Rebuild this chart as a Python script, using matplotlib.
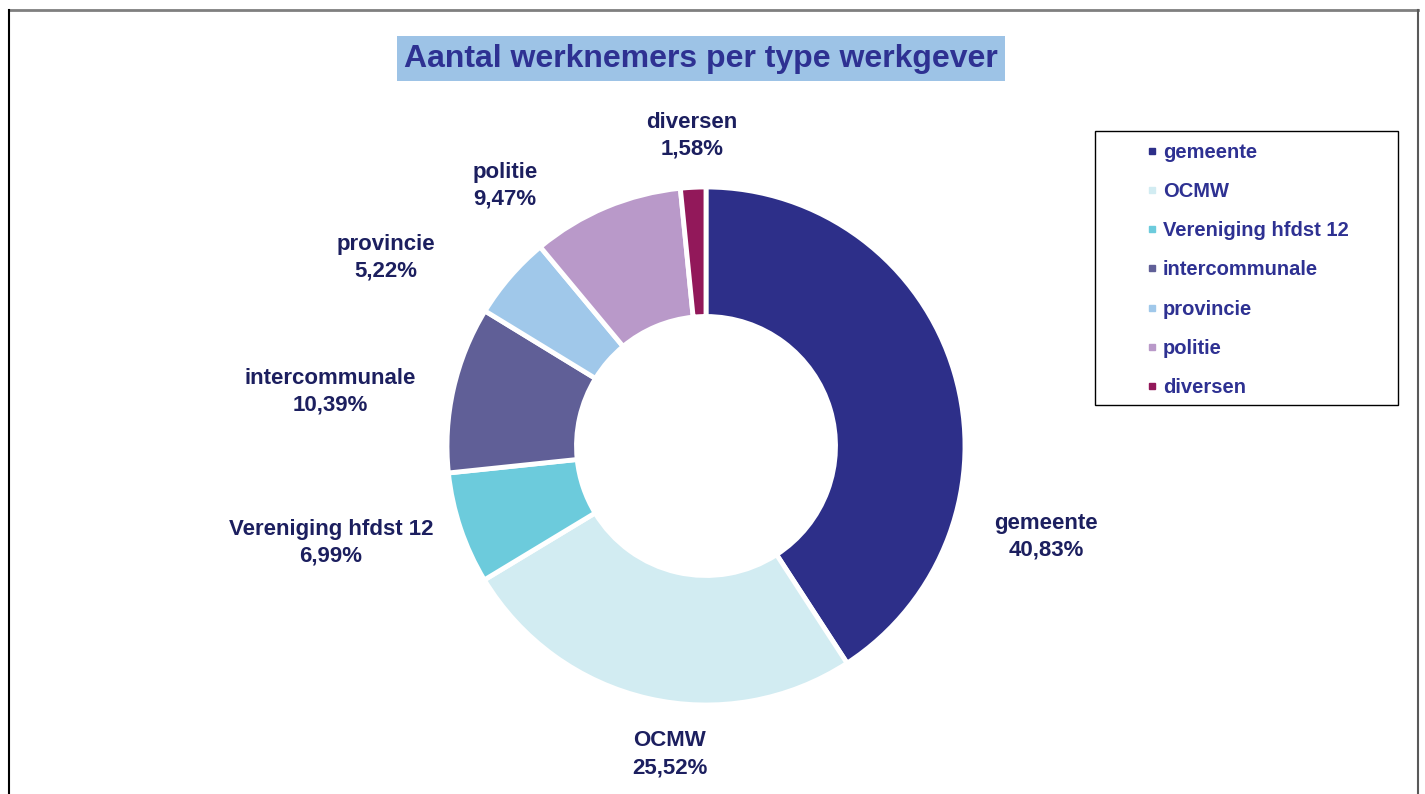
import matplotlib
matplotlib.use('Agg')
import matplotlib.pyplot as plt
from matplotlib.lines import Line2D
from matplotlib.patches import Rectangle

plt.rcParams['font.family'] = ['Liberation Sans', 'DejaVu Sans']

# data
categories = ['gemeente', 'OCMW', 'Vereniging hfdst 12', 'intercommunale',
              'provincie', 'politie', 'diversen']
shares = [40.83, 25.52, 6.99, 10.39, 5.22, 9.47, 1.58]
colors = ['#2D2F89', '#D2ECF2', '#6CCBDC', '#605F97', '#A0C8EA', '#B999C9', '#92185A']

# label positions (in pie radius units), Excel "best fit" style
label_pos = [(1.313, -0.350), (-0.139, -1.190), (-1.448, -0.375), (-1.452, 0.208),
             (-1.236, 0.726), (-0.776, 1.004), (-0.054, 1.197)]

W, H = 1425, 794
fig = plt.figure(figsize=(W / 100, H / 100), dpi=100)

# pie axes: center (706, 446) px, radius 259 px
cx, cy, r = 706, 446, 259
half = 320
ax = fig.add_axes([(cx - half) / W, (H - cy - half) / H, 2 * half / W, 2 * half / H])

wedges, _ = ax.pie(shares, colors=colors, startangle=90, counterclock=False,
                   radius=1.0, wedgeprops=dict(width=0.5, edgecolor='white', linewidth=3.5))
ax.set_xlim(-half / r, half / r)
ax.set_ylim(-half / r, half / r)
ax.set_aspect('equal')
ax.axis('off')

for cat, val, (lx, ly) in zip(categories, shares, label_pos):
    ax.text(lx, ly, f"{cat}\n{val:.2f}%".replace('.', ','), ha='center', va='center',
            fontsize=16, fontweight='bold', color='#1C1F5F', linespacing=1.35)

# title
fig.text(701 / W, 1 - 58.5 / H, 'Aantal werknemers per type werkgever', ha='center', va='center',
         fontsize=23, fontweight='bold', color='#2E3192',
         bbox=dict(boxstyle='square,pad=0.22', facecolor='#9DC3E6', edgecolor='none'))

# legend
handles = [Line2D([0], [0], marker='s', linestyle='none', markersize=4.5,
                  markerfacecolor=c, markeredgecolor=c) for c in colors]
leg = fig.legend(handles, categories, loc='upper left',
                 bbox_to_anchor=(1146 / W, 1 - 143 / H), frameon=False,
                 handlelength=0.6, handletextpad=0.25, labelspacing=1.0,
                 borderpad=0, borderaxespad=0,
                 prop=dict(size=14.5, weight='bold'))
for t in leg.get_texts():
    t.set_color('#2E3192')
fig.add_artist(Rectangle((1095 / W, 1 - 405 / H), (1398 - 1095) / W, (405 - 131) / H,
                         transform=fig.transFigure, fill=False, edgecolor='black', lw=1.0))

# outer chart frame
fig.add_artist(Line2D([9 / W, 1418 / W], [1 - 10 / H, 1 - 10 / H], color='#7F7F7F', lw=2))
fig.add_artist(Line2D([9 / W, 9 / W], [0, 1 - 10 / H], color='black', lw=1.5))
fig.add_artist(Line2D([1418 / W, 1418 / W], [0, 1 - 10 / H], color='#595959', lw=1.5))

fig.savefig('out.png', dpi=100, facecolor='white')
